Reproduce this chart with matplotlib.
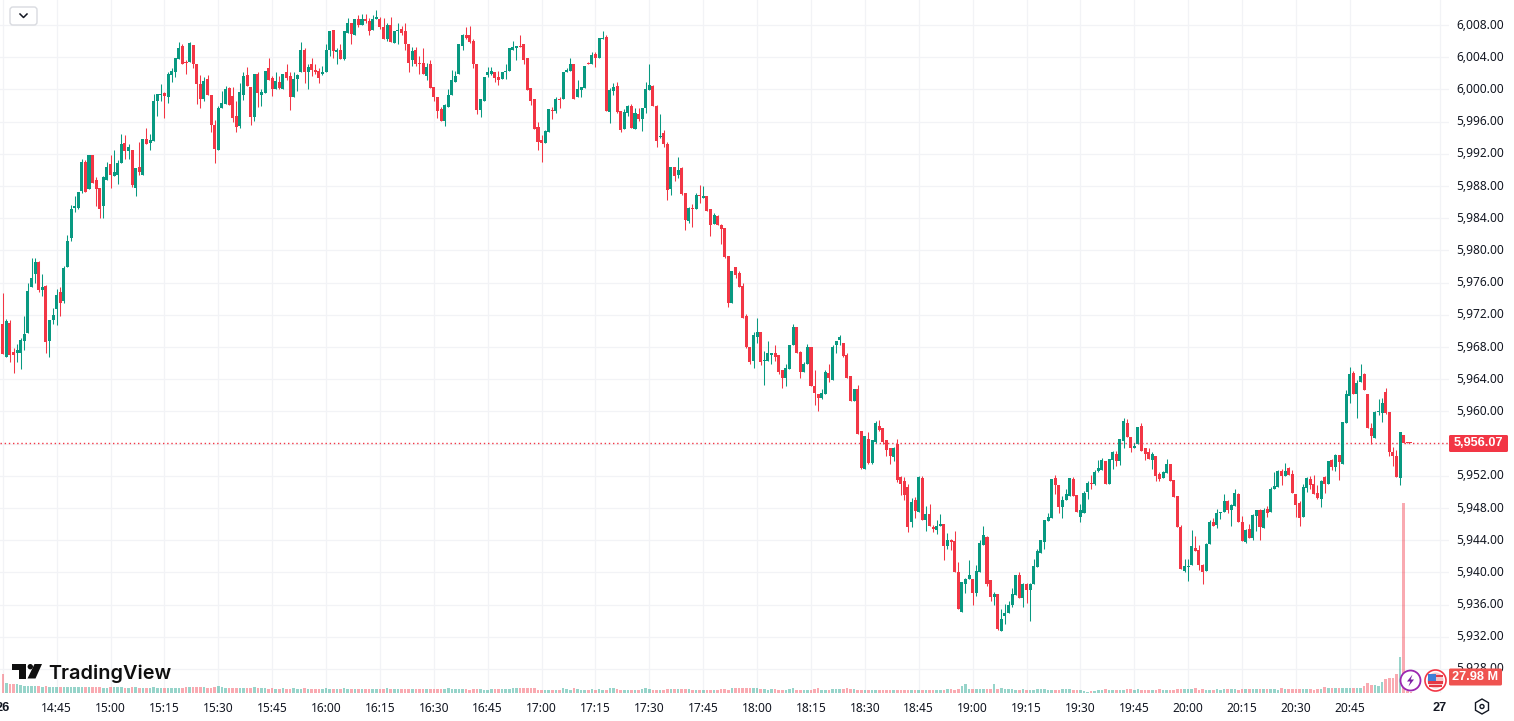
import matplotlib
matplotlib.use("Agg")
import matplotlib.pyplot as plt
from matplotlib.patches import Rectangle, Circle, Polygon, FancyBboxPatch, RegularPolygon
from matplotlib.transforms import ScaledTranslation

direction = ("RGRRGGGGGG" "RGRGGGRGGG" "GGGRGRRRGG" "RGGGRGRGRG" "RGGGGRGGGG"
             "RRGRRRGRRR" "GGGRRRGGRR" "GRGGRRGRGR" "RGGGRGRRRG" "GGRGRGGRGR"
             "GRRGGRRGRG" "GRRRGRRRGR" "RRRGGGGGGR" "RRRGGGGRRG" "GGGGRRRRRR"
             "RGGRGRGGGR" "GGGRGRGGRG" "GRRGGRGRGG" "GRRGRRGRGR" "RGRGRGRRGR"
             "RRRGRRRRRG" "GRGGGRRRGG" "GRRGGRRRGG" "RGGGRRRGRR" "GRGGRRRRGR"
             "RRRGRGRGRR" "GGRGRRRGGG" "RGGGRRGRGG" "GGGRGRGGGG" "GGGRRGGGRR"
             "GGGRGGGRGG" "RGGRRGGRRR" "GRRGGRRRRG" "GGRRRGGRGG" "GRGGRRGRGG"
             "RGRGGGRGRR" "RRGGRRRGRG" "RGRGGGRGGR" "RRGGGRRRRG" "RRR")

body_high = [
5970.8,5971.2,5971.0,5967.4,5967.6,5968.9,5969.6,5975.0,5976.6,5978.6,
5978.5,5975.5,5975.6,5971.4,5972.0,5974.5,5974.8,5977.8,5981.2,5985.1,
5985.5,5987.3,5991.0,5991.0,5991.8,5991.8,5988.7,5987.8,5989.1,5990.3,
5990.7,5989.7,5990.8,5993.2,5993.4,5992.8,5992.5,5990.2,5990.3,5993.9,
5993.9,5993.7,5998.5,5999.4,5999.4,5999.6,6001.9,6002.3,6003.9,6005.2,
6005.4,6003.4,6005.8,6005.5,6003.2,6000.7,6001.1,6001.3,5999.3,5995.6,
5997.7,5998.3,6000.1,6000.2,5999.2,5996.7,5999.7,6001.7,6001.8,6000.3,
6001.9,6001.9,5999.7,6002.3,6002.7,6001.4,6001.1,6000.9,6001.9,6002.1,
6001.7,6001.3,6001.8,6004.9,6004.9,6002.8,6003.2,6002.4,6002.3,6002.1,
6004.9,6007.3,6007.4,6004.9,6004.9,6007.2,6008.2,6008.3,6008.8,6008.7,
6008.8,6008.8,6008.5,6008.8,6009.0,6008.7,6007.8,6008.0,6008.0,6007.2,
6007.4,6007.5,6007.3,6005.6,6004.8,6004.9,6003.3,6003.3,6002.8,6003.1,
6000.3,5999.0,5997.6,5998.1,5999.3,6001.2,6001.7,6005.6,6006.7,6006.8,
6006.7,6006.05,6003.1,5998.8,6001.6,6002.2,6002.3,6002.2,6001.6,6002.2,
6002.3,6005.1,6005.3,6005.4,6005.4,6005.6,6003.9,6000.2,5998.8,5995.3,
5993.7,5994.8,5997.6,5997.5,5998.8,5998.8,6002.1,6002.4,6003.1,6003.2,
6000.0,6000.3,6002.9,6003.3,6004.3,6004.4,6006.4,6006.4,6006.5,5999.95,
6000.3,6000.4,5997.3,5997.2,5998.0,5998.0,5997.1,5997.0,5997.7,6000.1,
6000.6,6000.4,5998.0,5994.2,5994.6,5993.2,5990.4,5990.4,5990.0,5990.2,
5987.1,5985.3,5985.3,5986.9,5986.9,5986.8,5986.7,5985.1,5984.4,5984.3,
5983.2,5982.8,5979.3,5977.5,5978.0,5977.2,5975.6,5971.9,5968.0,5969.5,
5969.9,5969.9,5966.4,5967.2,5967.2,5967.2,5967.0,5965.2,5965.4,5968.3,
5970.5,5970.5,5967.4,5965.9,5968.0,5968.0,5963.2,5962.2,5962.3,5964.9,
5964.8,5968.0,5968.8,5969.3,5968.5,5967.0,5964.4,5962.8,5962.8,5957.6,
5956.9,5956.6,5956.4,5958.5,5958.2,5957.9,5956.5,5955.5,5955.5,5956.0,
5951.8,5951.3,5950.6,5948.8,5949.0,5951.8,5951.75,5947.2,5947.3,5945.7,
5945.8,5946.0,5946.0,5944.0,5944.0,5943.9,5940.0,5938.8,5939.2,5939.7,
5939.2,5940.2,5943.6,5944.7,5944.4,5939.0,5937.3,5937.3,5934.2,5934.9,
5935.9,5937.3,5939.7,5939.7,5938.5,5938.5,5938.6,5940.8,5942.7,5944.0,
5946.5,5946.9,5951.6,5951.75,5950.8,5949.0,5949.8,5951.75,5951.6,5949.6,
5947.7,5949.9,5951.1,5951.1,5952.5,5953.0,5954.0,5953.9,5954.1,5954.9,
5954.7,5956.6,5958.8,5958.5,5956.8,5955.7,5958.1,5958.2,5955.4,5954.9,
5954.7,5954.4,5952.25,5952.5,5953.5,5953.5,5951.5,5949.5,5945.7,5940.8,
5940.8,5943.3,5943.0,5942.8,5940.9,5943.5,5946.2,5946.2,5947.4,5947.5,
5948.9,5948.9,5948.4,5949.9,5949.8,5946.3,5945.3,5945.4,5947.1,5947.8,
5947.8,5947.8,5947.9,5950.4,5950.7,5952.6,5952.6,5952.6,5953.0,5952.2,
5949.8,5948.6,5950.6,5951.7,5951.6,5951.0,5949.9,5951.4,5951.9,5953.9,
5954.0,5954.6,5954.6,5958.7,5962.1,5964.7,5964.8,5963.5,5964.4,5964.7,
5962.2,5958.0,5959.9,5960.1,5961.1,5962.4,5959.9,5955.0,5954.5,5957.5,
5957.1,5956.2,5956.1]

body_low = [
5967.1,5966.8,5966.95,5966.95,5967.2,5967.3,5968.7,5969.8,5975.4,5977.1,
5975.1,5975.1,5968.6,5968.7,5971.3,5972.7,5973.5,5973.7,5978.0,5981.5,
5985.3,5985.3,5987.4,5987.3,5987.6,5988.4,5987.6,5985.2,5985.5,5988.7,
5989.4,5989.3,5989.4,5990.9,5992.3,5992.4,5988.1,5987.8,5989.7,5989.4,
5993.2,5993.4,5993.6,5998.5,5999.3,5999.2,5999.1,6001.8,6002.2,6003.8,
6003.2,6003.3,6003.4,6003.2,6000.7,5998.8,5998.8,5999.3,5995.6,5992.6,
5992.5,5997.7,5998.2,5998.1,5996.5,5995.3,5995.5,5999.3,6000.4,5996.6,
5996.6,5999.5,5999.3,5999.6,6001.2,6000.1,6000.1,6000.2,6000.1,6001.4,
5999.1,5999.0,6001.3,6002.2,6002.1,6002.1,6002.4,6002.2,6001.4,6001.9,
6002.1,6004.9,6004.8,6004.7,6003.8,6003.8,6007.0,6006.9,6006.8,6008.0,
6008.0,6008.5,6007.3,6007.4,6008.8,6007.8,6006.3,6006.2,6005.9,6005.8,
6007.2,6007.0,6005.6,6003.3,6003.7,6003.2,6003.1,6001.9,6001.7,6000.2,
5999.0,5997.3,5996.1,5996.1,5997.8,5999.3,6000.9,6001.9,6005.4,6006.4,
6005.9,6003.1,5997.5,5997.5,5998.6,6001.8,6001.9,6001.4,6001.2,6001.3,
6002.1,6002.3,6004.9,6005.1,6005.3,6003.7,5999.95,5998.5,5995.1,5993.5,
5993.4,5993.4,5994.7,5997.3,5997.3,5998.7,5998.8,6002.1,6002.3,5998.8,
5999.0,5999.95,6000.2,6003.2,6003.2,6003.9,6003.9,6006.2,5997.3,5997.2,
5999.8,5997.2,5995.0,5995.1,5997.1,5995.2,5995.1,5996.3,5996.3,5997.7,
5999.95,5998.0,5993.6,5994.1,5993.2,5987.5,5987.6,5989.2,5989.4,5987.0,
5983.8,5983.6,5985.1,5985.1,5986.8,5986.55,5984.9,5983.2,5983.3,5983.1,
5982.7,5979.2,5973.5,5973.5,5977.0,5975.5,5971.6,5968.0,5966.1,5966.3,
5969.3,5966.1,5966.2,5966.3,5967.0,5966.8,5964.9,5964.1,5964.1,5965.3,
5968.2,5967.2,5964.9,5964.9,5965.9,5963.1,5962.3,5961.7,5961.7,5962.2,
5964.1,5963.9,5968.2,5968.9,5966.9,5964.2,5961.3,5961.3,5957.2,5953.0,
5952.9,5953.6,5953.6,5956.2,5957.7,5956.2,5955.2,5954.4,5954.3,5951.5,
5951.0,5949.6,5945.6,5946.2,5947.6,5947.5,5946.5,5946.5,5945.8,5945.4,
5945.3,5945.8,5943.3,5943.3,5943.8,5940.1,5935.4,5935.1,5938.6,5939.2,
5937.5,5937.5,5940.1,5943.4,5938.6,5937.0,5937.0,5933.0,5932.7,5934.6,
5935.0,5936.0,5937.2,5936.8,5936.8,5937.8,5937.8,5938.6,5940.7,5942.4,
5943.8,5946.4,5946.8,5950.8,5948.1,5948.1,5949.0,5949.5,5949.5,5947.5,
5946.9,5947.4,5950.0,5951.0,5951.0,5952.6,5952.7,5951.0,5951.0,5954.0,
5953.9,5953.9,5956.3,5956.8,5955.4,5955.5,5955.9,5955.1,5954.7,5954.1,
5954.0,5952.0,5951.6,5951.7,5952.4,5951.4,5949.4,5945.7,5940.4,5940.2,
5940.7,5940.9,5942.7,5940.9,5940.1,5940.2,5943.5,5945.8,5945.9,5947.4,
5947.5,5947.8,5947.8,5948.3,5946.3,5943.9,5943.8,5944.3,5944.3,5947.0,
5945.7,5945.5,5947.4,5947.5,5950.3,5950.6,5952.0,5952.0,5952.1,5949.9,
5948.4,5946.7,5946.9,5950.5,5950.9,5949.8,5949.3,5949.1,5951.0,5951.0,
5953.1,5953.1,5953.7,5953.5,5958.6,5961.9,5962.1,5962.1,5963.7,5962.6,
5958.0,5957.0,5956.7,5959.9,5959.8,5959.8,5955.0,5954.5,5951.9,5951.7,
5956.1,5956.05,5956.07]

wick_high = [
5974.7,5971.5,5971.4,5967.9,5968.4,5969.1,5971.9,5976.0,5979.0,5979.1,
5978.7,5977.1,5975.7,5971.4,5972.9,5975.2,5975.4,5978.1,5981.9,5985.6,
5986.7,5987.3,5991.3,5991.2,5991.8,5991.9,5989.1,5987.8,5989.2,5991.0,
5991.9,5992.5,5991.2,5994.4,5994.3,5993.2,5992.5,5990.2,5993.5,5993.9,
5995.2,5994.4,5999.4,5999.4,6000.7,5999.7,6002.1,6002.7,6003.9,6005.9,
6005.7,6003.7,6005.9,6005.5,6003.2,6001.8,6001.5,6001.8,5999.3,5996.2,
5998.0,5999.8,6000.4,6000.3,6000.3,5998.5,6000.8,6002.2,6002.8,6000.3,
6001.9,6002.1,6000.1,6002.3,6003.9,6001.7,6002.1,6001.7,6001.9,6003.1,
6002.1,6002.2,6001.9,6005.9,6005.2,6003.2,6003.9,6003.2,6002.6,6002.9,
6005.7,6007.3,6007.4,6005.2,6005.7,6007.2,6008.9,6008.3,6008.8,6009.2,
6009.4,6009.4,6008.9,6009.3,6009.9,6009.0,6008.9,6008.2,6009.0,6007.2,
6008.2,6007.9,6008.3,6005.7,6005.3,6005.3,6004.2,6005.1,6003.3,6003.7,
6000.3,5999.0,5997.8,5998.2,6000.1,6002.4,6002.3,6005.7,6006.9,6007.7,
6007.9,6006.2,6003.1,5998.8,6001.6,6002.8,6002.8,6002.2,6002.3,6002.2,
6003.2,6005.1,6006.0,6005.4,6006.7,6005.6,6003.9,6000.2,5998.8,5996.0,
5994.3,5995.0,5997.6,5997.8,5999.1,5999.1,6002.1,6002.7,6003.9,6003.2,
6001.2,6000.3,6002.9,6003.4,6004.6,6004.6,6006.4,6007.3,6006.7,6000.2,
6000.8,6000.9,5997.3,5997.6,5998.1,5998.2,5997.7,5997.7,5997.7,6000.9,
6003.1,6000.6,5998.1,5997.0,5995.0,5993.5,5990.4,5990.4,5991.6,5990.4,
5987.1,5985.4,5985.8,5987.1,5988.1,5988.0,5986.7,5985.1,5984.7,5984.4,
5983.3,5982.8,5979.3,5977.5,5978.0,5977.5,5976.0,5972.1,5968.0,5969.9,
5971.6,5969.9,5967.5,5968.7,5967.2,5968.3,5967.0,5965.2,5965.9,5968.3,
5970.9,5970.5,5967.5,5966.1,5968.4,5968.0,5965.1,5962.2,5962.8,5965.1,
5965.9,5968.2,5968.8,5969.5,5968.5,5967.2,5964.4,5962.8,5963.3,5957.6,
5956.9,5957.4,5956.4,5958.8,5958.9,5957.9,5956.5,5955.5,5955.6,5956.6,
5952.0,5951.8,5951.0,5949.2,5949.4,5952.0,5952.0,5948.3,5948.5,5945.9,
5946.5,5947.3,5946.0,5944.9,5944.2,5945.2,5941.3,5938.8,5939.3,5941.6,
5939.2,5940.9,5944.0,5945.8,5944.5,5939.0,5937.6,5937.3,5935.4,5936.1,
5936.5,5938.1,5939.7,5940.0,5938.7,5938.7,5938.7,5941.7,5942.9,5944.0,
5946.5,5947.4,5951.6,5952.1,5950.8,5949.5,5950.3,5951.75,5951.9,5949.6,
5948.5,5950.1,5951.4,5952.1,5952.7,5954.0,5954.2,5953.9,5954.1,5955.1,
5955.1,5956.6,5959.2,5959.0,5956.8,5956.1,5958.1,5958.5,5955.5,5955.4,
5955.0,5954.5,5952.5,5952.6,5954.1,5953.5,5951.5,5949.5,5945.9,5941.7,
5941.7,5945.3,5944.5,5943.4,5941.1,5943.7,5946.5,5946.8,5947.9,5947.5,
5949.8,5949.0,5948.5,5950.3,5949.9,5947.0,5945.4,5946.0,5947.3,5947.8,
5947.9,5948.0,5948.3,5950.6,5952.5,5952.7,5952.9,5953.6,5953.1,5952.7,
5949.8,5948.9,5951.0,5951.9,5952.0,5952.1,5950.9,5951.5,5952.0,5953.9,
5954.1,5954.7,5954.6,5958.7,5962.7,5965.5,5965.0,5963.9,5965.9,5964.8,
5962.2,5958.6,5960.1,5961.6,5961.7,5962.9,5959.9,5955.6,5955.2,5957.5,
5957.1,5956.2,5956.1]

wick_low = [
5967.1,5966.7,5966.1,5964.8,5966.1,5965.3,5967.6,5969.7,5975.4,5975.9,
5974.8,5974.3,5967.2,5966.7,5970.9,5970.7,5971.9,5973.5,5978.0,5981.2,
5984.8,5985.1,5987.1,5987.2,5987.6,5988.4,5985.5,5984.0,5984.0,5988.7,
5987.7,5989.2,5988.3,5990.9,5991.4,5991.3,5987.9,5986.7,5989.4,5989.4,
5993.2,5992.5,5993.6,5996.7,5998.5,5996.5,5998.3,6000.9,6001.6,6003.8,
6003.2,6001.9,6003.4,6002.6,5998.2,5997.7,5998.5,5999.3,5994.7,5990.9,
5992.5,5997.7,5998.2,5998.1,5996.0,5994.7,5995.2,5998.7,6000.4,5995.6,
5996.1,5997.8,5998.0,5999.6,6001.2,5999.2,6000.1,6000.1,6000.1,6001.2,
5997.5,5999.0,5999.8,6002.2,6000.8,6000.1,6001.7,6001.9,6000.8,6001.8,
6002.1,6004.2,6003.9,6003.1,6003.8,6003.7,6007.0,6005.7,6006.8,6007.8,
6008.0,6008.3,6006.7,6007.4,6008.8,6007.5,6006.3,6006.0,6005.9,6005.8,
6005.6,6006.8,6004.9,6002.1,6002.9,6002.9,6001.9,6001.9,6001.2,6000.2,
5998.6,5996.5,5996.1,5995.5,5997.8,5999.3,6000.9,6001.9,6004.9,6006.2,
6005.8,6002.6,5997.0,5996.6,5998.6,6001.6,6001.8,6000.9,6000.6,6001.3,
6001.3,6002.3,6004.9,6003.7,6005.3,6003.2,5999.95,5998.1,5995.1,5992.5,
5991.0,5993.4,5994.7,5996.3,5997.1,5997.7,5998.8,6002.1,6002.3,5998.8,
5999.0,5999.0,6000.2,6003.1,6003.2,6002.8,6003.9,6006.2,5997.3,5995.8,
5999.3,5997.1,5994.7,5995.1,5996.7,5995.2,5995.1,5996.1,5994.8,5997.1,
5999.95,5998.0,5992.9,5994.0,5992.9,5986.3,5986.9,5988.6,5989.0,5986.9,
5982.5,5983.4,5982.9,5985.1,5985.9,5986.55,5984.9,5981.8,5983.3,5983.1,
5980.8,5979.1,5973.0,5973.5,5976.6,5975.5,5971.6,5967.9,5965.9,5965.4,
5968.5,5965.8,5963.3,5966.3,5965.9,5966.2,5964.6,5962.9,5963.2,5965.3,
5968.2,5967.2,5964.2,5964.9,5965.9,5963.1,5960.8,5960.1,5961.5,5962.2,
5963.7,5963.9,5967.3,5968.3,5966.7,5964.2,5961.3,5961.3,5957.2,5952.8,
5952.8,5953.5,5953.5,5956.1,5957.6,5956.0,5954.5,5953.5,5953.8,5951.2,
5949.6,5949.0,5945.0,5945.6,5946.8,5947.5,5946.5,5945.2,5945.8,5945.0,
5944.8,5945.8,5941.6,5942.9,5942.8,5940.1,5935.4,5935.1,5937.5,5939.2,
5936.0,5937.1,5940.1,5943.4,5938.3,5936.5,5935.9,5932.9,5932.7,5933.6,
5934.9,5935.7,5937.2,5936.8,5935.7,5936.2,5934.0,5938.6,5940.7,5942.4,
5942.9,5946.4,5946.8,5949.8,5947.4,5946.7,5949.0,5949.5,5949.5,5947.5,
5946.2,5947.4,5949.1,5950.3,5950.9,5952.5,5952.7,5951.0,5951.0,5952.9,
5953.2,5953.4,5955.4,5956.8,5954.9,5955.5,5955.9,5955.1,5954.0,5954.1,
5952.9,5951.4,5951.4,5951.7,5952.4,5951.4,5949.4,5945.7,5940.4,5940.1,
5938.9,5940.9,5942.6,5940.3,5938.6,5940.2,5943.5,5945.8,5945.5,5946.6,
5947.5,5947.4,5945.8,5948.3,5946.3,5943.9,5943.7,5944.3,5944.0,5945.2,
5944.0,5945.5,5946.9,5947.5,5950.3,5950.6,5950.9,5952.0,5952.1,5949.9,
5946.9,5945.8,5946.9,5950.0,5950.4,5949.8,5949.1,5948.1,5949.9,5951.0,
5952.7,5952.6,5951.5,5953.5,5958.5,5961.1,5962.1,5959.2,5963.7,5962.6,
5958.0,5956.0,5956.7,5959.6,5958.7,5959.7,5954.5,5953.2,5951.9,5950.9,
5956.1,5956.05,5956.07]

volume = [
19,9.5,8.5,8.5,8.5,7.5,7,7,7,7,
7,6,7,6,6,6,6,6,6,6,
6,6,6,6,6,6,6,6,5,5,
6,6,6,6,5,5,6,6,5,5,
5,5,6,5,5,5,5,5,5,5,
5,6,6,6,6,6,6,5,5,6,
7,6,5,5,5,5,5,5,5,5,
6,5,5,5,4,5,4,4,5,4,
4,5,4,4,5,4,4,4,4,4,
5,4,4,4,4,5,4,4,4,4,
4,4,4,4,4,4,4,5,4,4,
4,4,3.5,4,4,4,4,4,4,4,
4,4,4,4,5,4,4,4,4,4,
3,4,3.5,3.5,3,3,4,4,4,4,
4,4,5,4.5,4.5,4.5,4.5,5,5,3,
3,3,3,3,3,3,4.5,3.5,3,4.5,
3.5,3,3,3,4,3,3.5,3,3,5,
4.5,3.5,3,3,3,3,3,3,3.5,5,
4,2.5,3,3,3,4,4,4,3.5,4,
3.5,4,3,3,3,3,3,3,3,3,
3.5,4,3,4.5,4.5,4.5,4.5,4.5,4.5,4.5,
4.5,4,3.5,3,3.5,4,3,3,3,4,
4.5,3,3,2.5,3,3,4,4.5,3,3,
3,4,4,4,4,5,4,3.5,3,3,
3,3,3,3,3,3,3,3,3,3,
3,3,3,3,3,3,3,3,3,3,
3,3,3,3.5,3.5,3,4,7,9,4,
4,4,4,4,4,3.5,9,4,5,4,
4,3.5,3,3,3.5,3,3,3,3.5,4,
4,3,3,3,3,4,4,4,3,3,
3,2,1,2,2,3,3,3.5,3,3,
3,3,3,3.5,3.5,3,3.5,3,3,3,
3,3,3.5,3,3,3,3,3.5,4,4,
4,4,4.5,3,3.5,3,3,3,3.5,3,
3.5,3.5,3.5,3.5,3,3.5,3.5,3.5,3.5,3.5,
3.5,4,3.5,3.5,4,3,4.5,4,4,4,
4,3.5,3.5,4,3.5,3,4,3.5,6,4.5,
4.5,4.5,4.5,5,5,5,5,5,5,7,
10,8,8,7,11,14,15,15,19,36,
190,1.5,1.2]

TIME_LABELS = ["14:45","15:00","15:15","15:30","15:45","16:00","16:15","16:30","16:45",
               "17:00","17:15","17:30","17:45","18:00","18:15","18:30","18:45","19:00",
               "19:15","19:30","19:45","20:00","20:15","20:30","20:45"]
LAST_PRICE = 5956.07
PRICE_TICKS = [5928 + 4 * k for k in range(21)]

RED, GREEN = "#F23645", "#089981"
GRID = "#F2F3F6"
W, H, AXR, AXB = 1514, 721, 1449, 692.7
PX_PER_PT, Y6008 = 8.05, 25.0
PX0, PX_STEP = 2.8, 3.592
FONT = "Noto Sans"
BOLD = "Liberation Sans"

fig = plt.figure(figsize=(W / 100, H / 100), dpi=100, facecolor="white")
rect = [0, (H - AXB) / H, AXR / W, AXB / H]
ax = fig.add_axes(rect)
ax.set_facecolor("white")
ax.set_xlim(-PX0 / PX_STEP, (AXR - PX0) / PX_STEP)
ax.set_ylim(6008 - (AXB - Y6008) / PX_PER_PT, 6008 + Y6008 / PX_PER_PT)
for s in ax.spines.values():
    s.set_visible(False)

n = len(direction)
xs = list(range(n))
colors = [GREEN if d == "G" else RED for d in direction]

xticks = [0] + [15 * (k + 1) for k in range(len(TIME_LABELS))] + [400]
xlabels = ["26"] + TIME_LABELS + ["27"]
ax.set_xticks(xticks)
ax.set_xticklabels(xlabels, fontfamily=FONT, fontsize=8.6, color="#131722")
for lab in (ax.get_xticklabels()[0], ax.get_xticklabels()[-1]):
    lab.set_fontfamily(BOLD)
    lab.set_fontweight("bold")
    lab.set_fontsize(9.2)
ax.set_yticks(PRICE_TICKS)
ax.set_yticklabels([f"{p:,.2f}" for p in PRICE_TICKS], fontfamily=FONT, fontsize=8.6, color="#131722")
ax.yaxis.tick_right()
ax.tick_params(axis="both", length=0)
ax.tick_params(axis="x", pad=6.5)
ax.tick_params(axis="y", pad=5.5)
shift_up = ScaledTranslation(0, 1.5 / 100, fig.dpi_scale_trans)
for lab in ax.get_yticklabels():
    lab.set_transform(lab.get_transform() + shift_up)
ax.grid(True, color=GRID, lw=0.9)
ax.set_axisbelow(True)

ax.axhline(LAST_PRICE, color=RED, lw=1, ls=(0, (1, 2)), zorder=1.5)
ax.vlines(xs, wick_low, wick_high, colors=colors, lw=0.75, zorder=2)
heights = [max(a - b, 0.14) for a, b in zip(body_high, body_low)]
ax.bar(xs, heights, bottom=body_low, width=0.84, color=colors, linewidth=0, zorder=3)

axv = fig.add_axes(rect)
axv.patch.set_alpha(0)
axv.set_xlim(ax.get_xlim())
axv.set_ylim(0, AXB)
axv.axis("off")
axv.bar(xs, volume, width=0.72, color=colors, alpha=0.42, linewidth=0)

# Overlay chrome in pixel coordinates
ov = fig.add_axes([0, 0, 1, 1])
ov.set_xlim(0, W)
ov.set_ylim(H, 0)
ov.axis("off")
ov.patch.set_alpha(0)

# Collapse button
ov.add_patch(FancyBboxPatch((10, 7), 27, 18, boxstyle="round,pad=0,rounding_size=3",
                            fc="white", ec="#D9DBE0", lw=1))
ov.plot([20, 23.5, 27], [14, 17.5, 14], color="#131722", lw=1.1)

# TradingView logo
ov.add_patch(Polygon([(12, 664), (26, 664), (26, 678.5), (19, 678.5), (19, 669.5), (12, 669.5)], fc="#0F0F0F", ec="none"))
ov.add_patch(Circle((30.3, 666.7), 2.7, fc="#0F0F0F", ec="none"))
ov.add_patch(Polygon([(34.5, 664), (42, 664), (35.5, 678.5), (27.5, 678.5)], fc="#0F0F0F", ec="none"))
ov.text(48.5, 673.5, "TradingView", family="Inter", weight="semibold", fontsize=14.3,
        color="#0F0F0F", va="center", ha="left")

# Price label
ov.add_patch(FancyBboxPatch((1449, 435), 59, 17, boxstyle="round,pad=0,rounding_size=1.5", fc=RED, ec="none"))
ov.text(1478.5, 443.3, f"{LAST_PRICE:,.2f}", family=BOLD, weight="bold", fontsize=9.2, color="white",
        ha="center", va="center")
# Volume label
ov.add_patch(FancyBboxPatch((1449, 668.5), 53, 17, boxstyle="round,pad=0,rounding_size=1.5", fc="#EF5350", ec="none"))
ov.text(1475.5, 677, "27.98 M", family=BOLD, weight="bold", fontsize=9.2, color="white", ha="center", va="center")

# Lightning icon
ov.add_patch(Circle((1410.5, 680.5), 10, fc="white", ec="#9C27B0", lw=1.3, zorder=5))
ov.add_patch(Polygon([(1412.5, 674.5), (1407, 681.5), (1410.3, 681.5), (1408.5, 686.5), (1414, 679.5), (1410.7, 679.5)],
                     fc="#7B1FA2", ec="none", zorder=6))
# Flag icon
ov.add_patch(Circle((1435.5, 680.5), 10.5, fc="white", ec="#F23645", lw=1.2, zorder=5))
ov.add_patch(Circle((1435.5, 680.5), 8, fc="#F7C5C8", ec="none", zorder=6))
ov.add_patch(Rectangle((1428, 681), 15, 2.6, fc="#E53945", ec="none", zorder=7))
ov.add_patch(Rectangle((1429, 685), 13, 2.2, fc="#E53945", ec="none", zorder=7))
ov.add_patch(Rectangle((1428, 673.5), 8, 7, fc="#3F7FD6", ec="none", zorder=7))
ov.add_patch(Rectangle((1436, 675), 6.5, 2.2, fc="#E53945", ec="none", zorder=7))

# Settings icon
ov.add_patch(RegularPolygon((1482, 706.5), 6, radius=7.5, orientation=1.0472, fc="white", ec="#131722", lw=1))
ov.add_patch(Circle((1482, 706.5), 2, fc="white", ec="#131722", lw=1))

fig.savefig("out.png", dpi=100)
